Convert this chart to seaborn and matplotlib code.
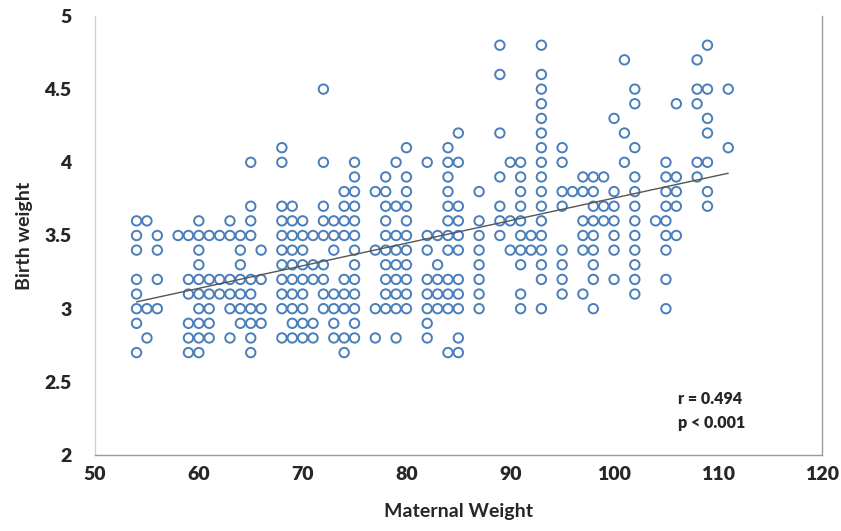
import pandas as pd
import seaborn as sns
import matplotlib.pyplot as plt

# maternal weights (x) for each birth-weight row (y)
rows = {
    4.8: [89, 93, 109],
    4.7: [101, 108],
    4.6: [89, 93],
    4.5: [72, 93, 102, 108, 109, 111],
    4.4: [93, 102, 106, 108],
    4.3: [93, 100, 109],
    4.2: [85, 89, 93, 101, 109],
    4.1: [68, 80, 84, 93, 95, 102, 111],
    4.0: [65, 68, 72, 75, 79, 82, 84, 85, 90, 91, 93, 95, 101, 105, 108, 109],
    3.9: [75, 78, 80, 84, 89, 91, 93, 97, 98, 99, 102, 105, 106, 108],
    3.8: [74, 75, 77, 78, 80, 84, 87, 91, 93, 95, 96, 97, 98, 100, 102, 105,
          106, 109],
    3.7: [65, 68, 69, 72, 74, 75, 78, 79, 80, 84, 85, 89, 91, 93, 95, 98, 99,
          100, 102, 105, 106, 109],
    3.6: [54, 55, 60, 63, 65, 68, 69, 70, 72, 73, 74, 75, 78, 80, 84, 85, 87,
          89, 90, 91, 93, 97, 98, 99, 100, 102, 104, 105],
    3.5: [54, 56, 58, 59, 60, 61, 62, 63, 64, 65, 68, 69, 70, 71, 72, 73, 74,
          75, 78, 79, 80, 82, 83, 84, 85, 87, 89, 91, 92, 93, 97, 98, 100, 102,
          105, 106],
    3.4: [54, 56, 60, 64, 66, 68, 69, 70, 73, 75, 77, 78, 79, 80, 82, 84, 85,
          87, 90, 91, 92, 93, 95, 97, 98, 100, 102, 105],
    3.3: [60, 64, 68, 69, 70, 71, 72, 75, 78, 79, 80, 83, 87, 91, 93, 95, 98,
          102],
    3.2: [54, 56, 59, 60, 61, 62, 63, 64, 65, 66, 68, 69, 70, 71, 72, 74, 75,
          78, 79, 80, 82, 83, 84, 85, 87, 93, 95, 98, 100, 102, 105],
    3.1: [54, 59, 60, 61, 62, 63, 64, 65, 68, 69, 70, 72, 73, 74, 75, 78, 79,
          80, 82, 83, 84, 85, 87, 91, 95, 97, 102],
    3.0: [54, 55, 56, 60, 61, 63, 64, 65, 66, 68, 69, 70, 72, 73, 74, 75, 77,
          78, 79, 80, 82, 83, 84, 85, 87, 91, 93, 98, 105],
    2.9: [54, 59, 60, 61, 64, 65, 66, 69, 70, 71, 73, 75, 82],
    2.8: [55, 59, 60, 61, 63, 65, 68, 69, 70, 71, 73, 74, 75, 77, 79, 82, 85],
    2.7: [54, 59, 60, 65, 74, 84, 85],
}

x_ticks = [50, 60, 70, 80, 90, 100, 110, 120]
y_ticks = [2, 2.5, 3, 3.5, 4, 4.5, 5]
stats_text = "r = 0.494\np < 0.001"

maternal = []
birth = []
for bw, weights in rows.items():
    for w in weights:
        maternal.append(w)
        birth.append(bw)
df = pd.DataFrame({'Maternal Weight': maternal, 'Birth weight': birth})

sns.set_style('white')
plt.rcParams['font.family'] = ['Lato', 'DejaVu Sans']

fig = plt.figure(figsize=(8.41, 5.31), dpi=100)
ax = fig.add_axes([0.113, 0.143, 0.864, 0.827])

sns.regplot(data=df, x='Maternal Weight', y='Birth weight', ax=ax, ci=None,
            truncate=True,
            scatter_kws={'s': 46, 'facecolors': 'none', 'edgecolors': '#4a7ebb',
                         'linewidths': 1.4, 'alpha': 1},
            line_kws={'color': '#555555', 'linewidth': 1.0})

ax.set_xlim(50, 120)
ax.set_ylim(2, 5)
ax.set_xticks(x_ticks)
ax.set_yticks(y_ticks)
ax.set_xticklabels([str(t) for t in x_ticks], fontsize=14, fontweight='heavy')
ax.set_yticklabels([f'{t:g}' for t in y_ticks], fontsize=14, fontweight='heavy')
ax.tick_params(axis='both', length=5, width=0.8, color='#999999',
               direction='out')
ax.tick_params(axis='x', pad=3)
ax.tick_params(axis='y', pad=12)

ax.set_xlabel('Maternal Weight', fontsize=14, fontweight='bold', labelpad=14)
ax.set_ylabel('Birth weight', fontsize=14, fontweight='bold', labelpad=8)

for side in ['left', 'bottom', 'right']:
    ax.spines[side].set_visible(True)
    ax.spines[side].set_color('#9a9a9a')
    ax.spines[side].set_linewidth(1.0)
ax.spines['left'].set_color('#d0d0d0')
ax.spines['top'].set_visible(False)

ax.text(106.2, 2.3, stats_text, fontsize=11.5, fontweight='heavy',
        va='center', ha='left', linespacing=1.6)

fig.savefig('out.png', dpi=100)
